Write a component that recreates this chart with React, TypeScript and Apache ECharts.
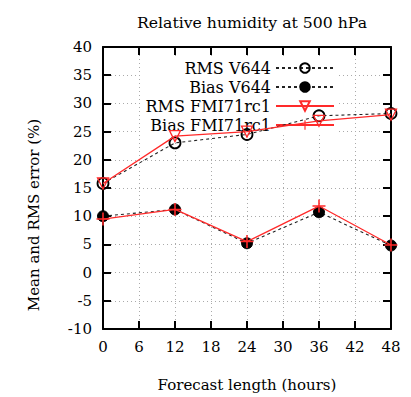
import React, { useEffect, useRef } from "react";
import * as echarts from "echarts";

const hours = [0, 12, 24, 36, 48];
const rmsV644 = [15.8, 23.0, 24.5, 27.8, 28.2];
const biasV644 = [10.0, 11.2, 5.2, 10.7, 4.8];
const rmsFMI = [15.8, 24.2, 25.0, 26.9, 28.0];
const biasFMI = [9.5, 11.2, 5.5, 11.8, 4.9];
const seriesNames = ["RMS V644", "Bias V644", "RMS FMI71rc1", "Bias FMI71rc1"];

const FONT = "DejaVu Serif";
const RED = "#ff2a2a";
const pair = (vals: number[]) => hours.map((h, i) => [h, vals[i]]);

export default function App() {
  const ref = useRef<HTMLDivElement>(null);
  useEffect(() => {
    const chart = echarts.init(ref.current!, null, { renderer: "svg" });
    const axisCommon = {
      type: "value" as const,
      axisLine: { show: true, onZero: false, lineStyle: { color: "#000", width: 2 } },
      axisTick: { show: true, inside: true, length: 8, lineStyle: { color: "#000", width: 2 } },
    };
    const labelStyle = { fontFamily: FONT, fontSize: 15, color: "#000" };
    chart.setOption({
      animation: false,
      backgroundColor: "#fff",
      textStyle: { fontFamily: FONT },
      title: {
        text: "Relative humidity at 500 hPa",
        left: 247,
        textAlign: "center",
        top: 9,
        textStyle: { fontFamily: FONT, fontSize: 15.7, fontWeight: "normal", color: "#000" },
      },
      legend: {
        data: seriesNames,
        orient: "vertical",
        right: 72,
        top: 58,
        align: "right",
        itemWidth: 58,
        itemHeight: 12,
        itemGap: 3,
        z: 1,
        backgroundColor: "#fff",
        padding: [2, 4, 2, 4],
        textStyle: { fontFamily: FONT, fontSize: 16, color: "#000" },
      },
      grid: { left: 103, right: 20, top: 47, bottom: 57 },
      graphic: [
        {
          type: "text",
          x: 34,
          y: 215,
          rotation: Math.PI / 2,
          style: {
            text: "Mean and RMS error (%)",
            fontFamily: FONT,
            fontSize: 15,
            fill: "#000",
            align: "center",
            verticalAlign: "middle",
          },
        },
      ],
      xAxis: [
        {
          ...axisCommon,
          min: 0,
          max: 48,
          interval: 6,
          position: "bottom",
          name: "Forecast length (hours)",
          nameLocation: "middle",
          nameGap: 48,
          nameTextStyle: labelStyle,
          axisLabel: { ...labelStyle, margin: 10 },
          splitLine: { show: true, lineStyle: { color: "#aaa", type: [1, 3], width: 1 } },
        },
        {
          ...axisCommon,
          min: 0,
          max: 48,
          interval: 6,
          position: "top",
          axisLabel: { show: false },
          splitLine: { show: false },
        },
      ],
      yAxis: [
        {
          ...axisCommon,
          min: -10,
          max: 40,
          interval: 5,
          position: "left",
          axisLabel: { ...labelStyle, margin: 11 },
          splitLine: { show: true, lineStyle: { color: "#aaa", type: [1, 3], width: 1 } },
        },
        {
          ...axisCommon,
          min: -10,
          max: 40,
          interval: 5,
          position: "right",
          axisLabel: { show: false },
          splitLine: { show: false },
        },
      ],
      series: [
        {
          name: seriesNames[0],
          type: "line",
          data: pair(rmsV644),
          symbol: "circle",
          symbolSize: 11,
          lineStyle: { color: "#222", width: 1.1, type: [3, 3] },
          itemStyle: { color: "rgba(255,255,255,0)", borderColor: "#000", borderWidth: 1.8 },
          z: 2,
        },
        {
          name: seriesNames[1],
          type: "line",
          data: pair(biasV644),
          symbol: "circle",
          symbolSize: 11,
          lineStyle: { color: "#222", width: 1.1, type: [3, 3] },
          itemStyle: { color: "#000", borderColor: "#000", borderWidth: 1 },
          z: 2,
        },
        {
          name: seriesNames[2],
          type: "line",
          data: pair(rmsFMI),
          symbol: "triangle",
          symbolRotate: 180,
          symbolSize: 11,
          lineStyle: { color: RED, width: 1.3 },
          itemStyle: { color: "rgba(255,255,255,0)", borderColor: RED, borderWidth: 1.3 },
          z: 3,
        },
        {
          name: seriesNames[3],
          type: "line",
          data: pair(biasFMI),
          symbol: "path://M4.4,0H5.6V10H4.4ZM0,4.4H10V5.6H0Z",
          symbolSize: 13,
          lineStyle: { color: RED, width: 1.3 },
          itemStyle: { color: RED },
          z: 3,
        },
      ],
    });
    return () => chart.dispose();
  }, []);
  return <div ref={ref} style={{ width: 411, height: 397, position: "absolute", left: 0, top: 0 }} />;
}
